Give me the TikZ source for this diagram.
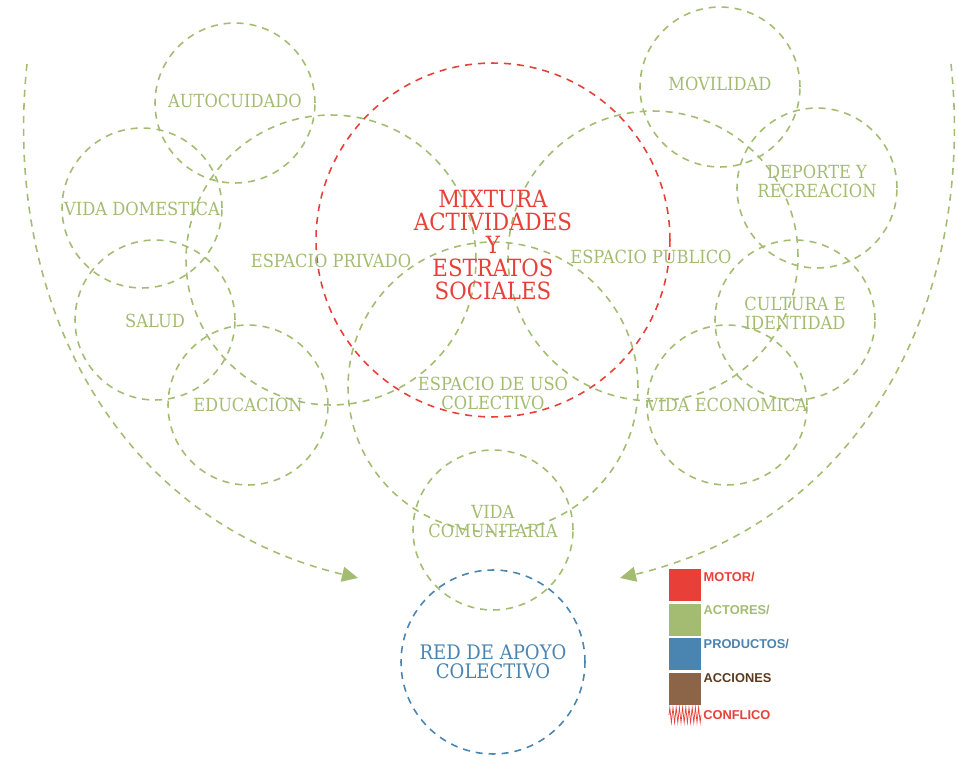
\documentclass[tikz,border=0pt]{standalone}
\usepackage{fontspec}
\setmainfont{DejaVu Serif}[FakeStretch=0.9]
\newfontfamily\keyfont{Liberation Sans}
\usetikzlibrary{positioning,arrows.meta,decorations.pathmorphing}
\definecolor{verde}{RGB}{163,188,114}
\definecolor{motor}{RGB}{232,64,56}
\definecolor{azul}{RGB}{74,132,176}
\definecolor{cafe}{RGB}{140,100,72}
\definecolor{cafeosc}{RGB}{92,58,30}
\tikzset{
  ring/.style={circle,draw=verde,dash pattern=on 4pt off 3.4pt,line width=0.9pt,inner sep=0pt,minimum size=3.2cm},
  bigring/.style={ring,minimum size=5.8cm},
  lbl/.style={text=verde,font=\fontsize{10.3}{10.8}\selectfont,align=center,inner sep=0pt},
  flow/.style={draw=verde,dash pattern=on 4pt off 3.4pt,line width=0.9pt,-{Triangle[length=0.32cm,width=0.3cm]}},
  keybox/.style={minimum size=0.64cm,inner sep=0pt},
  keytxt/.style={font=\keyfont\bfseries\fontsize{7.3}{8}\selectfont,inner sep=0pt,anchor=west}
}
\begin{document}
\begin{tikzpicture}[x=0.02cm,y=-0.02cm,line cap=butt]
\useasboundingbox (0,0) rectangle (958,757);
% anillos
\foreach \n/\x/\y in {auto/235/103,dom/142/208,salud/155/320,edu/248/405,mov/720/87,dep/817/188,cult/795/320,eco/727/405,com/493/530}
  \node[ring] (\n) at (\x,\y) {};
\node[bigring] (priv) at (331,260) {};
\node[bigring] (pub) at (653,256) {};
\node[bigring] (col) at (493,387) {};
\node[circle,draw=motor,dash pattern=on 4pt off 3.4pt,line width=0.9pt,minimum size=7.08cm] (mix) at (493,240) {};
\node[circle,draw=azul,dash pattern=on 4pt off 3.4pt,line width=0.9pt,minimum size=3.68cm] (red) at (493,662) {};
% textos
\node[lbl] (tauto) at (235,101) {AUTOCUIDADO};
\node[lbl] (tdom) at (142,209) {VIDA DOMESTICA};
\node[lbl] (tsalud) at (155,321) {SALUD};
\node[lbl] (tedu) at (248,405) {EDUCACION};
\node[lbl] (tpriv) at (331,261) {ESPACIO PRIVADO};
\node[lbl] (tpub) at (651,257) {ESPACIO PUBLICO};
\node[lbl] (tcol) at (493,393) {ESPACIO DE USO\\COLECTIVO};
\node[lbl] (tmov) at (720,84) {MOVILIDAD};
\node[lbl] (tdep) at (817,181) {DEPORTE Y\\RECREACION};
\node[lbl] (tcult) at (795,313) {CULTURA E\\IDENTIDAD};
\node[lbl] (teco) at (727,405) {VIDA ECONOMICA};
\node[lbl] (tcom) at (493,522) {VIDA\\COMUNITARIA};
\node[lbl,text=motor,font=\fontsize{13.5}{13}\selectfont] (tmix) at (493,245) {MIXTURA\\ACTIVIDADES\\Y\\ESTRATOS\\SOCIALES};
\node[lbl,text=azul,font=\fontsize{11.4}{11}\selectfont] (tred) at (493,662) {RED DE APOYO\\COLECTIVO};
% flechas
\coordinate (l0) at (27,64);
\coordinate (l1) at (358,578);
\coordinate (r0) at (951,64);
\coordinate (r1) at (620,578);
\draw[flow] (l0) .. controls (2,300) and (115,520) .. (l1);
\draw[flow] (r0) .. controls (976,300) and (863,520) .. (r1);
% leyenda
\node[keybox,fill=motor] (km) at (685,585) {};
\node[keybox,fill=verde,below=0.04cm of km] (ka) {};
\node[keybox,fill=azul,below=0.04cm of ka] (kp) {};
\node[keybox,fill=cafe,below=0.04cm of kp] (kc) {};
\node[keytxt,text=motor] (tkm) at ([xshift=0.04cm,yshift=-0.16cm]km.north east) {MOTOR/};
\node[keytxt,text=verde] (tka) at ([xshift=0.04cm,yshift=-0.14cm]ka.north east) {ACTORES/};
\node[keytxt,text=azul] (tkp) at ([xshift=0.04cm,yshift=-0.12cm]kp.north east) {PRODUCTOS/};
\node[keytxt,text=cafeosc] (tkc) at ([xshift=0.04cm,yshift=-0.1cm]kc.north east) {ACCIONES};
\coordinate (z0) at (669,715);
\coordinate (z1) at (701,715);
\draw[motor,line width=0.4pt,decorate,decoration={zigzag,segment length=0.064cm,amplitude=0.15cm}] (z0) -- (z1);
\node[keytxt,text=motor] (tkz) at ([xshift=0.04cm]z1) {CONFLICO};
\end{tikzpicture}
\end{document}
